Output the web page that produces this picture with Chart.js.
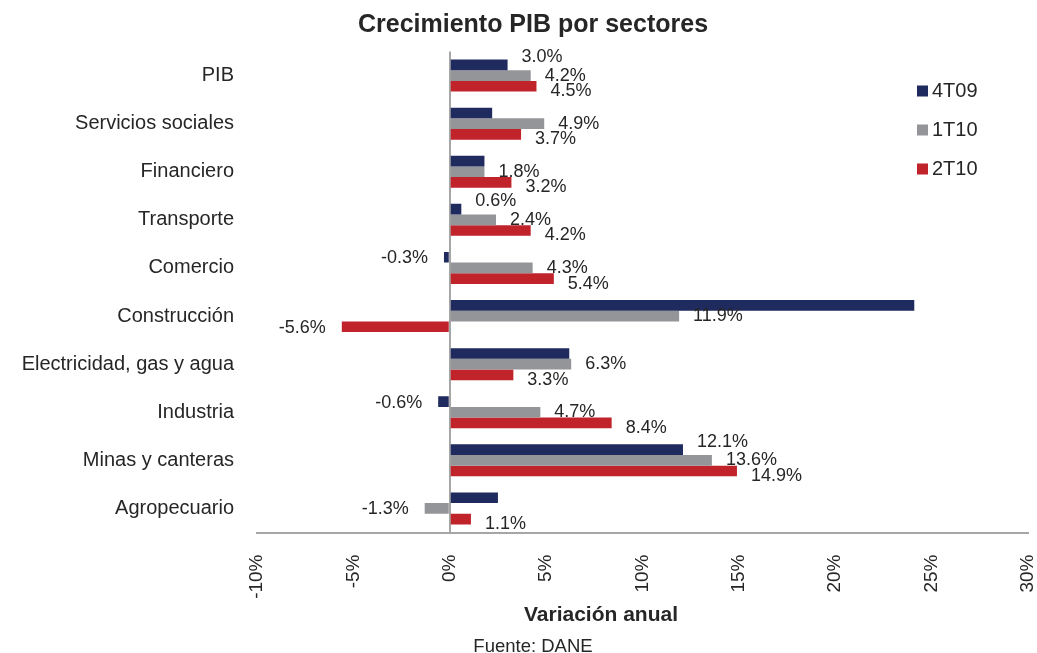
<!DOCTYPE html>
<html>
<head>
<meta charset="utf-8">
<script src="https://cdn.jsdelivr.net/npm/chart.js@4.4.1/dist/chart.umd.min.js"></script>
<style>
  body { margin: 0; background: #fff; }
</style>
</head>
<body>
<canvas id="canvas-1" width="1037" height="653"></canvas>
<script>
const sectores = ['PIB', 'Servicios sociales', 'Financiero', 'Transporte', 'Comercio', 'Construcción', 'Electricidad, gas y agua', 'Industria', 'Minas y canteras', 'Agropecuario']
const t409 = [3.0, 2.2, 1.8, 0.6, -0.3, 24.1, 6.2, -0.6, 12.1, 2.5]
const t110 = [4.2, 4.9, 1.8, 2.4, 4.3, 11.9, 6.3, 4.7, 13.6, -1.3]
const t210 = [4.5, 3.7, 3.2, 4.2, 5.4, -5.6, 3.3, 8.4, 14.9, 1.1]
const ejeX = [-10, -5, 0, 5, 10, 15, 20, 25, 30]
// labels that the original leaves out (4T09 series)
const sinEtiqueta4T09 = ['Servicios sociales', 'Financiero', 'Construcción', 'Electricidad, gas y agua', 'Agropecuario']

const textColor = '#262626'
const font = '"Liberation Sans", Arial, sans-serif'

// data labels, legend and the extra texts
const extras = {
  id: 'extras',
  afterDatasetsDraw(chart) {
    const c = chart.ctx
    c.save()
    c.fillStyle = textColor
    c.font = '18px ' + font
    c.textBaseline = 'middle'
    const dy = [-8, 0, 5]
    chart.data.datasets.forEach((ds, d) => {
      const meta = chart.getDatasetMeta(d)
      meta.data.forEach((bar, i) => {
        if (d === 0 && sinEtiqueta4T09.includes(sectores[i])) return
        const v = ds.data[i]
        const txt = v.toFixed(1) + '%'
        if (v >= 0) {
          c.textAlign = 'left'
          c.fillText(txt, bar.x + 14, bar.y + dy[d])
        } else {
          c.textAlign = 'right'
          c.fillText(txt, bar.x - 16, bar.y + 1)
        }
      })
    })
    c.restore()
  },
  afterDraw(chart) {
    const c = chart.ctx
    c.save()
    c.fillStyle = textColor
    c.textAlign = 'center'
    c.textBaseline = 'alphabetic'
    c.font = 'bold 25px ' + font
    c.fillText('Crecimiento PIB por sectores', 533, 32)
    c.font = 'bold 21px ' + font
    c.fillText('Variación anual', 601, 621)
    c.font = '18.5px ' + font
    c.fillText('Fuente: DANE', 533, 652)

    // legend
    c.font = '20px ' + font
    c.textAlign = 'left'
    c.textBaseline = 'middle'
    const ys = [91, 130, 169]
    chart.data.datasets.forEach((ds, d) => {
      c.fillStyle = ds.backgroundColor
      c.fillRect(917, ys[d] - 5.5, 11, 11)
      c.fillStyle = textColor
      c.fillText(ds.label, 932, ys[d])
    })
    c.restore()
  }
}

const barChart = new Chart(document.getElementById('canvas-1'), {
  type: 'bar',
  data: {
    labels: sectores,
    datasets: [
      { label: '4T09', data: t409, backgroundColor: '#1f2a5e' },
      { label: '1T10', data: t110, backgroundColor: '#949598' },
      { label: '2T10', data: t210, backgroundColor: '#c1232b' }
    ]
  },
  options: {
    indexAxis: 'y',
    responsive: false,
    animation: false,
    categoryPercentage: 0.665,
    barPercentage: 1,
    layout: {
      padding: { top: 51.5, right: 9, left: 0, bottom: 0 }
    },
    plugins: {
      legend: { display: false },
      title: { display: false },
      tooltip: { enabled: false }
    },
    scales: {
      x: {
        min: -10,
        max: 30,
        afterBuildTicks(scale) {
          scale.ticks = ejeX.map(v => ({ value: v }))
        },
        afterFit(scale) {
          scale.height = 120.5
          scale.paddingLeft = 0
          scale.paddingRight = 0
        },
        grid: {
          drawTicks: false,
          lineWidth: 2,
          color: ctx => ctx.tick && ctx.tick.value === 0 ? '#a6a6a6' : 'rgba(0,0,0,0)'
        },
        border: { display: true, color: '#a6a6a6', width: 2 },
        ticks: {
          color: textColor,
          padding: 22,
          minRotation: 90,
          maxRotation: 90,
          font: { size: 19, family: font },
          callback: v => v + '%'
        }
      },
      y: {
        afterFit(scale) {
          scale.width = 257
          scale.paddingTop = 0
          scale.paddingBottom = 0
        },
        grid: { display: false, drawTicks: false },
        border: { display: false },
        ticks: {
          color: textColor,
          padding: 23,
          font: { size: 20, family: font }
        }
      }
    }
  },
  plugins: [extras]
})
</script>
</body>
</html>
